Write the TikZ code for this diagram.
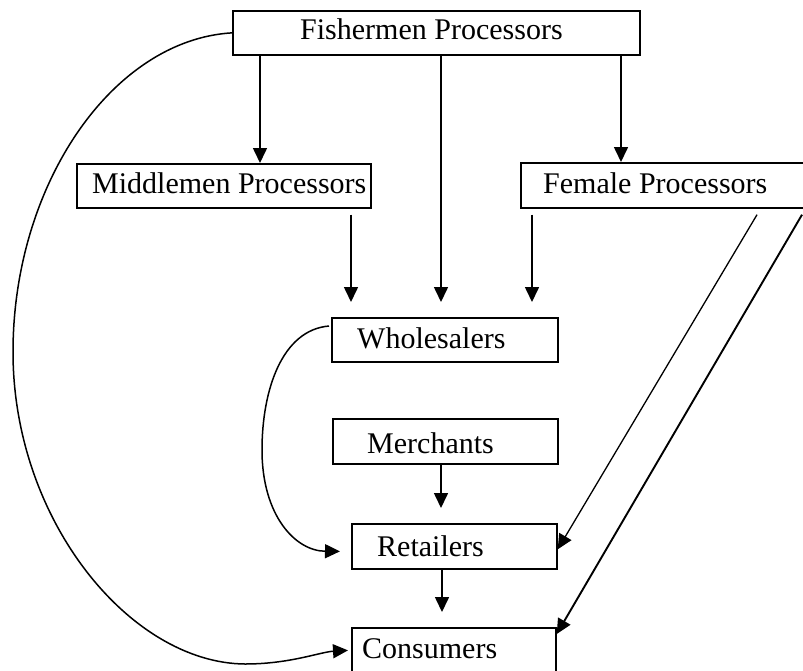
\documentclass[tikz,border=0pt]{standalone}
\usepackage{fontspec}
\setmainfont{Liberation Serif}
\usetikzlibrary{arrows.meta}
\begin{document}
\begin{tikzpicture}[x=1pt,y=-1pt,
  box/.style={draw,line width=1.7pt,rectangle,inner sep=0pt,anchor=north west},
  lbl/.style={anchor=base west,inner sep=0pt,font=\fontsize{30}{36}\selectfont},
  arr/.style={line width=1.6pt,-{Triangle[length=15pt,width=14pt]}},
  curv/.style={line width=1.5pt,-{Triangle[length=15pt,width=14pt]}}]
\useasboundingbox (0,0) rectangle (803,670);
\begin{scope}
\clip (0,0) rectangle (803,670);
% boxes
\node[box,minimum width=407pt,minimum height=44pt] (fish) at (232,10) {};
\node[box,minimum width=294pt,minimum height=44pt] (mid) at (76,163) {};
\node[box,minimum width=292pt,minimum height=45pt] (fem) at (520,162) {};
\node[box,minimum width=226pt,minimum height=44pt] (whole) at (331,317) {};
\node[box,minimum width=225pt,minimum height=45pt] (merch) at (332,418) {};
\node[box,minimum width=205pt,minimum height=45pt] (ret) at (351,523) {};
\node[box,minimum width=204pt,minimum height=45pt] (cons) at (351,627) {};
% labels
\node[lbl] (fishT) at (300,39) {Fishermen Processors};
\node[lbl] (midT) at (92,193) {Middlemen Processors};
\node[lbl] (femT) at (543,193) {Female Processors};
\node[lbl] (wholeT) at (357,348) {Wholesalers};
\node[lbl] (merchT) at (367,453) {Merchants};
\node[lbl] (retT) at (377,556) {Retailers};
\node[lbl] (consT) at (362,658) {Consumers};
% x guides
\coordinate (x260) at (260,0);
\coordinate (x441) at (441,0);
\coordinate (x621) at (621,0);
\coordinate (x351) at (351,0);
\coordinate (x532) at (532,0);
\coordinate (x442) at (442,0);
\coordinate (x757) at (757,0);
\coordinate (x802) at (802,0);
% straight arrows
\draw[arr] (fish.south -| x260) -- (mid.north -| x260);
\draw[arr] (fish.south -| x441) -- ([yshift=15pt]whole.north -| x441);
\draw[arr] (fish.south -| x621) -- (fem.north -| x621);
\draw[arr] ([yshift=-6pt]mid.south -| x351) -- ([yshift=15pt]whole.north -| x351);
\draw[arr] ([yshift=-6pt]fem.south -| x532) -- ([yshift=15pt]whole.north -| x532);
\draw[arr] (merch.south -| x441) -- ([yshift=15pt]ret.north -| x441);
\draw[arr] (ret.south -| x442) -- ([yshift=15pt]cons.north -| x442);
\draw[line width=1.3pt,-{Triangle[length=15pt,width=14pt]}] ([yshift=-6pt]fem.south -| x757) -- ([yshift=-3pt]ret.east);
\draw[line width=1.9pt,-{Triangle[length=15pt,width=14pt]}] ([yshift=-6pt]fem.south -| x802) -- ([yshift=-7pt]cons.north east);
% curves
\draw[curv] ([xshift=-2pt,yshift=-9pt]whole.north west)
  .. controls (282,330) and (262,390) .. (262,450)
  .. controls (262,515) and (295,551) .. ([xshift=-11pt,yshift=-5pt]ret.west);
\draw[curv] (fish.west)
  .. controls (112,40) and (13,185) .. (13,352)
  .. controls (13,520) and (130,663) .. (245,664)
  .. controls (290,664) and (320,652) .. ([xshift=-3pt]cons.west);
\end{scope}
\end{tikzpicture}
\end{document}
